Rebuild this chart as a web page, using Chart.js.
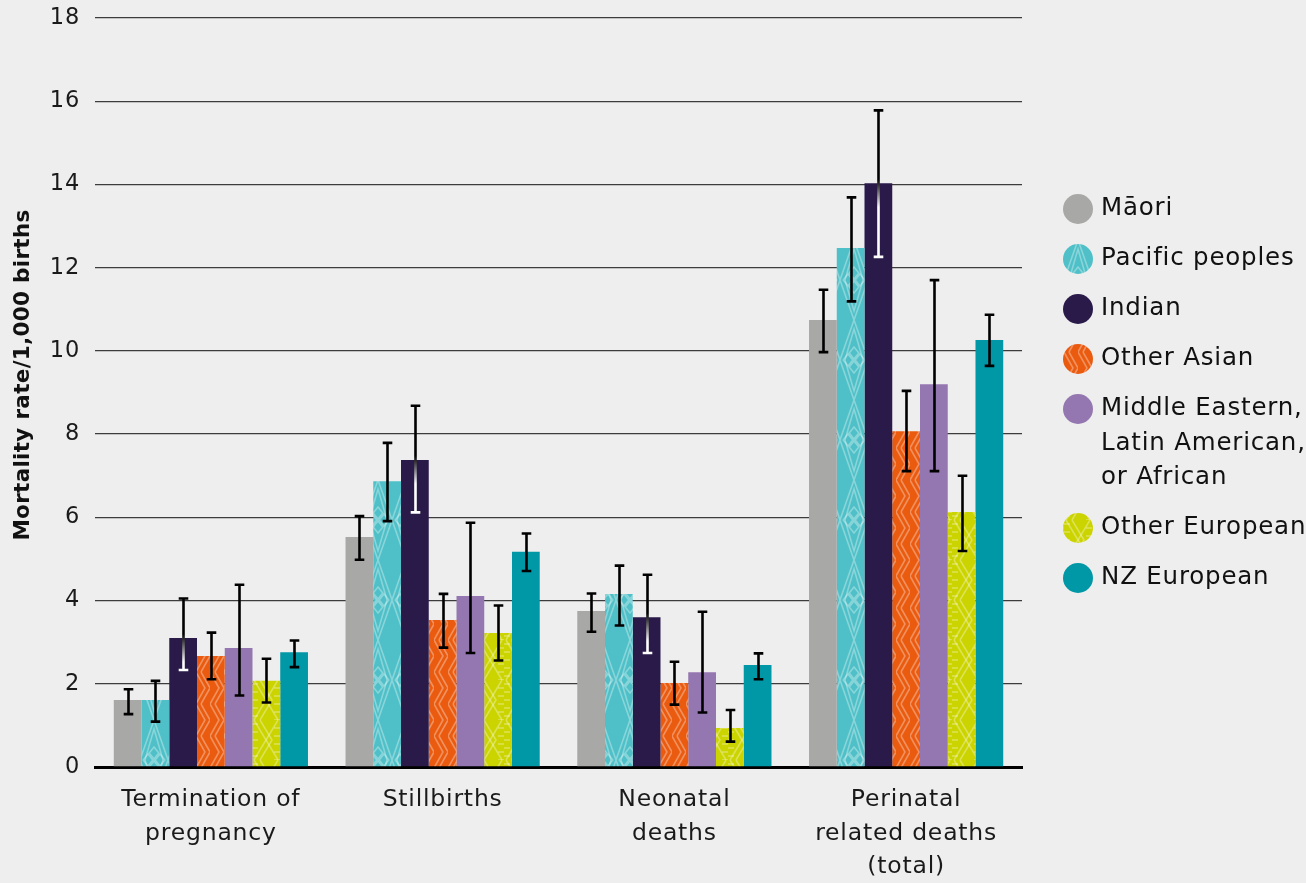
<!DOCTYPE html>
<html>
<head>
<meta charset="utf-8">
<script src="https://cdn.jsdelivr.net/npm/chart.js@4/dist/chart.umd.min.js"></script>
<style>
  html, body { margin: 0; padding: 0; background: #eeeeee; }
  #wrap { width: 1306px; height: 883px; }
  canvas { display: block; }
</style>
</head>
<body>
<div id="wrap"><canvas id="chart" width="1306" height="883"></canvas></div>
<script>
// Outcome categories along the x axis (multi-line labels)
const categories = [
  ["Termination of", "pregnancy"],
  "Stillbirths",
  ["Neonatal", "deaths"],
  ["Perinatal", "related deaths", "(total)"]
];

// Ethnic groups, in legend order
const groups = ["Māori", "Pacific peoples", "Indian", "Other Asian",
  ["Middle Eastern,", "Latin American,", "or African"], "Other European", "NZ European"];

// Mortality rate per 1,000 births, with lower / upper confidence limits
const maori         = [1.61, 5.53, 3.75, 10.74];
const maoriLow      = [1.27, 4.98, 3.25, 9.97];
const maoriHigh     = [1.87, 6.03, 4.17, 11.47];

const pacific       = [1.61, 6.87, 4.16, 12.47];
const pacificLow    = [1.09, 5.91, 3.40, 11.19];
const pacificHigh   = [2.07, 7.79, 4.84, 13.69];

const indian        = [3.10, 7.38, 3.60, 14.03];
const indianLow     = [2.33, 6.12, 2.74, 12.26];
const indianHigh    = [4.05, 8.68, 4.62, 15.78];

const otherAsian     = [2.67, 3.53, 2.02, 8.07];
const otherAsianLow  = [2.11, 2.87, 1.50, 7.11];
const otherAsianHigh = [3.23, 4.16, 2.53, 9.04];

const melaa         = [2.86, 4.11, 2.28, 9.20];
const melaaLow      = [1.72, 2.74, 1.31, 7.11];
const melaaHigh     = [4.38, 5.87, 3.73, 11.70];

const otherEuropean     = [2.07, 3.22, 0.94, 6.13];
const otherEuropeanLow  = [1.55, 2.56, 0.61, 5.19];
const otherEuropeanHigh = [2.60, 3.88, 1.37, 7.00];

const nzEuropean     = [2.76, 5.17, 2.45, 10.26];
const nzEuropeanLow  = [2.40, 4.71, 2.11, 9.64];
const nzEuropeanHigh = [3.04, 5.61, 2.73, 10.87];

// Y axis ticks and title
const yTicks = [0, 2, 4, 6, 8, 10, 12, 14, 16, 18];
const yTitle = 'Mortality rate/1,000 births';

const FONT = "'DejaVu Sans', sans-serif";
const canvas = document.getElementById('chart');
const ctx = canvas.getContext('2d');

// ---- fill patterns -------------------------------------------------------
function tilePattern(w, h, bg, draw) {
  const c = document.createElement('canvas');
  c.width = w; c.height = h;
  const g = c.getContext('2d');
  g.fillStyle = bg;
  g.fillRect(0, 0, w, h);
  g.strokeStyle = 'rgba(255,255,255,0.33)';
  g.lineWidth = 1.6;
  g.lineJoin = 'miter';
  draw(g, w, h);
  return ctx.createPattern(c, 'repeat');
}
function poly(g, pts, close) {
  g.beginPath();
  g.moveTo(pts[0][0], pts[0][1]);
  for (let i = 1; i < pts.length; i++) g.lineTo(pts[i][0], pts[i][1]);
  if (close) g.closePath();
  g.stroke();
}

const pacificFill = tilePattern(28, 80, '#4fc0c8', (g, w, h) => {
  const cx = w / 2, cy = h / 2;
  poly(g, [[cx, 0], [w, cy], [cx, h], [0, cy]], true);
  poly(g, [[cx, 9], [w - 5, cy], [cx, h - 9], [5, cy]], true);
  const s = 6;
  [[cx, cy - 7], [cx - 6, cy], [cx + 6, cy], [cx, cy + 7]].forEach(([x, y]) =>
    poly(g, [[x, y - s], [x + s * 0.8, y], [x, y + s], [x - s * 0.8, y]], true));
});

const otherAsianFill = tilePattern(14, 32, '#ea5b10', (g, w, h) => {
  poly(g, [[0, 0], [9, 16], [0, 32]]);
  poly(g, [[5, 0], [14, 16], [5, 32]]);
});

const otherEuropeanFill = tilePattern(28, 40, '#ccd400', (g, w, h) => {
  poly(g, [[2, 0], [14, 20], [2, 40]]);
  poly(g, [[26, 0], [14, 20], [26, 40]]);
  poly(g, [[8, 0], [20, 20], [8, 40]]);
  for (let y = 4; y < 40; y += 8) {
    poly(g, [[0, y], [6, y]]);
    poly(g, [[22, y + 4], [28, y + 4]]);
  }
});

const seriesStyle = [
  { data: maori,         low: maoriLow,         high: maoriHigh,         fill: '#a8a8a6' },
  { data: pacific,       low: pacificLow,       high: pacificHigh,       fill: pacificFill },
  { data: indian,        low: indianLow,        high: indianHigh,        fill: '#2a1a4a', lightInside: true },
  { data: otherAsian,    low: otherAsianLow,    high: otherAsianHigh,    fill: otherAsianFill },
  { data: melaa,         low: melaaLow,         high: melaaHigh,         fill: '#9477b0' },
  { data: otherEuropean, low: otherEuropeanLow, high: otherEuropeanHigh, fill: otherEuropeanFill },
  { data: nzEuropean,    low: nzEuropeanLow,    high: nzEuropeanHigh,    fill: '#0097a7' }
];

const datasets = seriesStyle.map((s, i) => ({
  label: Array.isArray(groups[i]) ? groups[i].join(' ') : groups[i],
  legendLines: Array.isArray(groups[i]) ? groups[i] : [groups[i]],
  data: s.data,
  errLow: s.low,
  errHigh: s.high,
  lightInside: !!s.lightInside,
  backgroundColor: s.fill,
  borderWidth: 0,
  barPercentage: 1.0,
  categoryPercentage: 0.838
}));

// ---- slightly open letter spacing for all axis text ----------------------
const textSpacing = {
  id: 'textSpacing',
  beforeDraw(chart) { chart.ctx.letterSpacing = '0.8px'; },
  afterDraw(chart) { chart.ctx.letterSpacing = '0px'; }
};

// ---- confidence interval whiskers ---------------------------------------
const errorBars = {
  id: 'errorBars',
  afterDatasetsDraw(chart) {
    const c = chart.ctx, y = chart.scales.y;
    c.save();
    chart.data.datasets.forEach((ds, i) => {
      const meta = chart.getDatasetMeta(i);
      meta.data.forEach((bar, j) => {
        const x = Math.round(bar.x) + 0.5;
        const top = y.getPixelForValue(ds.errHigh[j]);
        const bot = y.getPixelForValue(ds.errLow[j]);
        let stroke = '#000';
        if (ds.lightInside) {
          const g = c.createLinearGradient(0, bar.y - 4, 0, bar.y + 24);
          g.addColorStop(0, '#000');
          g.addColorStop(1, '#fff');
          stroke = g;
        }
        c.strokeStyle = stroke;
        c.lineWidth = 2.6;
        c.lineCap = 'butt';
        c.beginPath();
        c.moveTo(x, top); c.lineTo(x, bot);
        c.moveTo(x - 4.8, top); c.lineTo(x + 4.8, top);
        c.moveTo(x - 4.8, bot); c.lineTo(x + 4.8, bot);
        c.stroke();
      });
    });
    c.restore();
  }
};

// ---- legend at right and rotated y title ---------------------------------
const sideLegend = {
  id: 'sideLegend',
  afterDraw(chart) {
    const c = chart.ctx;
    c.save();
    c.letterSpacing = '0.8px';
    c.font = `24.5px ${FONT}`;
    c.textBaseline = 'middle';
    c.textAlign = 'left';
    let yPos = 209;
    chart.data.datasets.forEach(ds => {
      c.fillStyle = ds.backgroundColor;
      c.beginPath();
      c.arc(1078, yPos, 15, 0, Math.PI * 2);
      c.fill();
      c.fillStyle = '#111';
      ds.legendLines.forEach((line, k) => {
        c.fillText(line, 1101, yPos + k * 34.5);
      });
      yPos += 50 + (ds.legendLines.length - 1) * 34.5;
    });
    c.restore();

    c.save();
    c.translate(23, 375);
    c.rotate(-Math.PI / 2);
    c.letterSpacing = '0.3px';
    c.font = `600 21.5px ${FONT}`;
    c.fillStyle = '#111';
    c.textAlign = 'center';
    c.textBaseline = 'middle';
    c.fillText(yTitle, 0, 0);
    c.restore();
  }
};

new Chart(canvas, {
  type: 'bar',
  data: { labels: categories, datasets },
  options: {
    responsive: false,
    devicePixelRatio: 1,
    animation: false,
    layout: { padding: { top: 18, right: 284, bottom: 0, left: 0 } },
    plugins: { legend: { display: false }, tooltip: { enabled: false } },
    scales: {
      x: {
        afterFit(scale) { scale.height = 116; },
        grid: { display: false },
        border: { color: '#000', width: 3 },
        ticks: {
          color: '#1a1a1a',
          font: { family: FONT, size: 23.5, lineHeight: 1.43 },
          padding: 8,
          maxRotation: 0,
          autoSkip: false
        }
      },
      y: {
        min: 0,
        max: 18,
        afterFit(scale) {
          scale.width = 95;
          scale.paddingTop = 0;
          scale.paddingBottom = 0;
        },
        afterBuildTicks(scale) { scale.ticks = yTicks.map(v => ({ value: v })); },
        border: { display: false },
        grid: { color: '#3c3c3c', lineWidth: 1.3, drawTicks: false },
        ticks: {
          color: '#1a1a1a',
          font: { family: FONT, size: 22.5 },
          padding: 15
        }
      }
    }
  },
  plugins: [textSpacing, errorBars, sideLegend]
});
</script>
</body>
</html>
